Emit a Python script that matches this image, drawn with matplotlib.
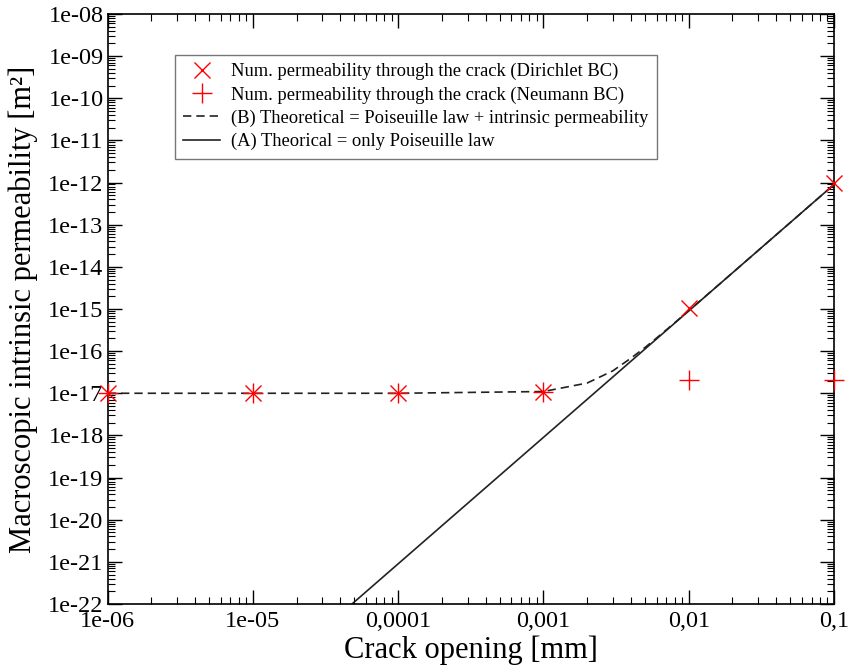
import matplotlib
matplotlib.use("Agg")
import matplotlib.pyplot as plt
from matplotlib.ticker import FixedLocator, LogLocator, NullFormatter, FuncFormatter

plt.rcParams['font.family'] = ['Liberation Serif', 'DejaVu Serif']

# crack opening [mm]
openings = [1e-6, 1e-5, 1e-4, 1e-3, 1e-2, 1e-1]

# numerical permeabilities [m2]
k_dirichlet = [1.0e-17, 1.0e-17, 1.0e-17, 1.1e-17, 1.05e-15, 1.0e-12]
k_neumann = [1.0e-17, 1.0e-17, 1.0e-17, 1.1e-17, 2.1e-17, 2.1e-17]

# (B) Poiseuille law + intrinsic permeability
theo_b_x = [1e-6, 1e-5, 1e-4, 1e-3, 2e-3, 3e-3, 4e-3, 5e-3, 6e-3, 7e-3,
            8e-3, 9e-3, 1e-2, 2e-2, 5e-2, 1e-1]
theo_b_y = [1.0e-17, 1.0e-17, 1.0e-17, 1.1e-17, 1.75e-17, 3.4e-17, 6.8e-17,
            1.22e-16, 2.04e-16, 3.19e-16, 4.71e-16, 6.66e-16, 9.1e-16,
            7.2e-15, 1.125e-13, 9.0e-13]

# (A) Poiseuille law only
theo_a_x = [1e-6, 1e-5, 1e-4, 1e-3, 1e-2, 1e-1]
theo_a_y = [9e-28, 9e-25, 9e-22, 9e-19, 9e-16, 9e-13]

x_ticks = [1e-6, 1e-5, 1e-4, 1e-3, 1e-2, 1e-1]
x_tick_labels = ['1e-06', '1e-05', '0,0001', '0,001', '0,01', '0,1']

fig = plt.figure(figsize=(8.48, 6.67), dpi=100)
ax = fig.add_axes([0.127, 0.0945, 0.8565, 0.8845])

ax.plot(openings, k_dirichlet, linestyle='none', marker='x', color='#ff0000',
        markersize=11, markeredgewidth=1.0, clip_on=False, zorder=5,
        label='Num. permeability through the crack (Dirichlet BC)')
ax.plot(openings, k_neumann, linestyle='none', marker='+', color='#ff0000',
        markersize=15, markeredgewidth=1.0, clip_on=False, zorder=5,
        label='Num. permeability through the crack (Neumann BC)')
ax.plot(theo_b_x, theo_b_y, color='#222222', linestyle=(0, (5, 3)), linewidth=1.2,
        label='(B) Theoretical = Poiseuille law + intrinsic permeability')
ax.plot(theo_a_x, theo_a_y, color='#222222', linestyle='-', linewidth=1.2,
        label='(A) Theorical = only Poiseuille law')

ax.set_xscale('log')
ax.set_yscale('log')
ax.set_xlim(1e-6, 1e-1)
ax.set_ylim(1e-22, 1e-8)

ax.xaxis.set_major_locator(FixedLocator(x_ticks))
ax.set_xticklabels(x_tick_labels)
ax.xaxis.set_minor_locator(LogLocator(base=10, subs=range(2, 10), numticks=20))
ax.xaxis.set_minor_formatter(NullFormatter())
ax.yaxis.set_major_locator(LogLocator(base=10, numticks=20))
ax.yaxis.set_major_formatter(FuncFormatter(lambda v, p: f"{v:.0e}"))
ax.yaxis.set_minor_locator(LogLocator(base=10, subs=range(2, 10), numticks=20))
ax.yaxis.set_minor_formatter(NullFormatter())

ax.tick_params(which='both', direction='in', top=True, right=True, labelsize=17.5)
ax.tick_params(which='major', length=10, width=1.0)
ax.tick_params(axis='x', which='major', pad=5)
ax.tick_params(axis='y', which='major', pad=3)
ax.tick_params(which='minor', length=5, width=0.8)
for s in ax.spines.values():
    s.set_linewidth(1.2)

ax.set_xlabel('Crack opening [mm]', fontsize=22)
ax.xaxis.set_label_coords(0.5, -0.054)
ax.set_ylabel('Macroscopic intrinsic permeability [m²]', fontsize=22, labelpad=7)

leg = ax.legend(loc='upper left', bbox_to_anchor=(0.080, 0.947), fontsize=13.3,
                frameon=True, fancybox=False, edgecolor='#555555',
                handlelength=2.0, labelspacing=0.33, borderpad=0.45,
                handletextpad=0.6)
leg.get_frame().set_linewidth(1.0)

fig.savefig('out.png', dpi=100)
